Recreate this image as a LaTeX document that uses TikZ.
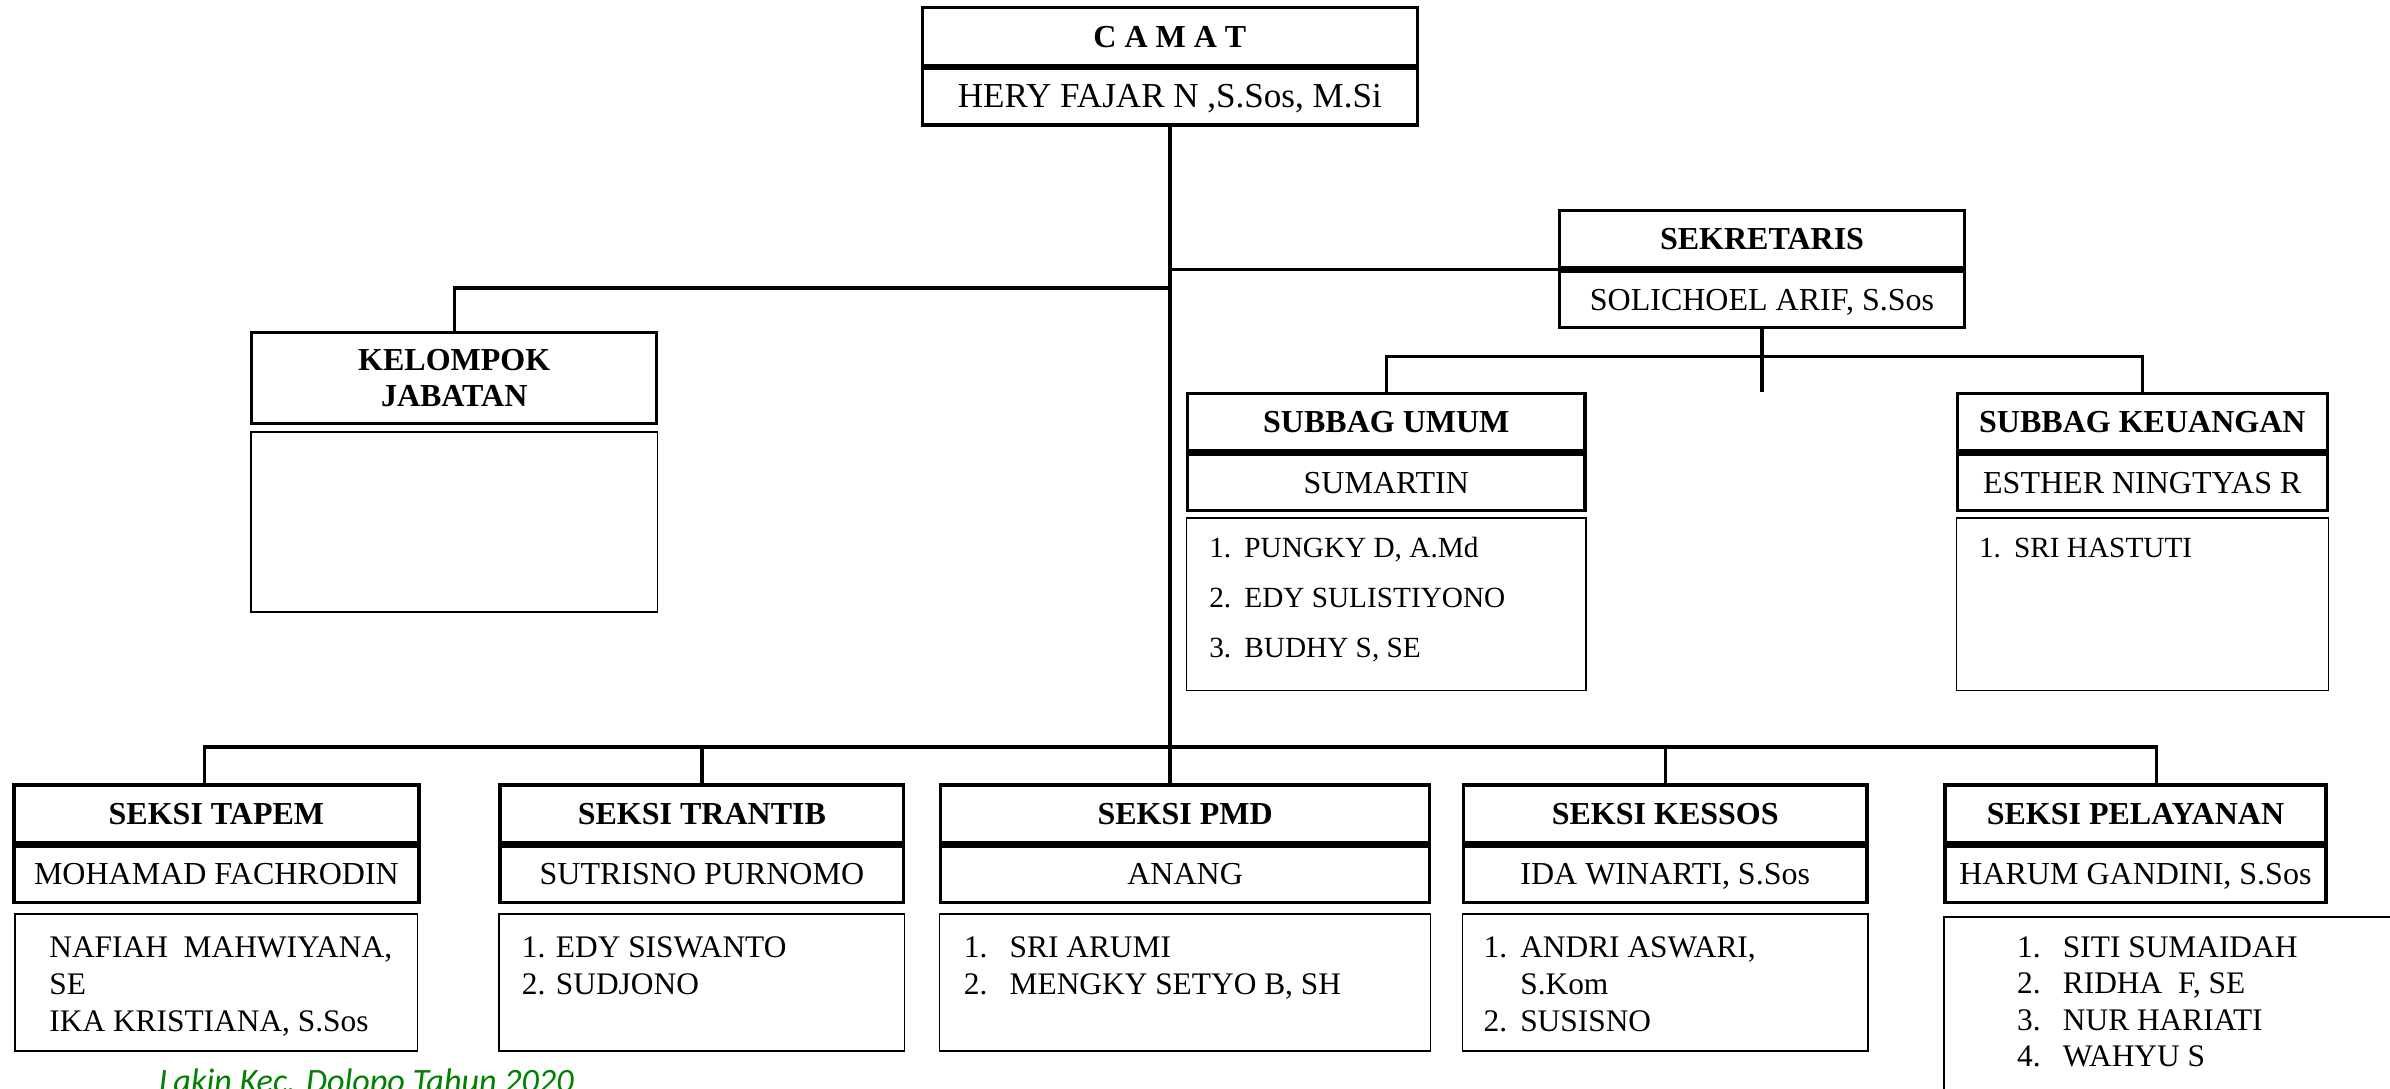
\documentclass[tikz,border=0pt]{standalone}
\usepackage{fontspec}
\setmainfont{Liberation Serif}
\newfontfamily\catatanfont{Carlito}
\usetikzlibrary{positioning}
\definecolor{hijau}{RGB}{0,128,0}

\begin{document}
\begin{tikzpicture}[x=0.5pt, y=-0.5pt,
  judul/.style={draw, line width=1.1pt, minimum width=#1, minimum height=18.9pt,
                inner sep=0pt, text height=7pt, text depth=0pt,
                font=\fontsize{10.5}{12}\selectfont\bfseries},
  nama/.style={draw, line width=1.1pt, minimum width=#1, minimum height=18.4pt,
               inner sep=0pt, text height=7pt, text depth=0pt,
               font=\fontsize{10.5}{12}\selectfont},
  daftar/.style={draw, line width=0.5pt, minimum width=#1, inner sep=0pt},
  isi/.style={anchor=base west, inner sep=0pt, font=\fontsize{10.3}{12.25}\selectfont},
  garis/.style={line width=1.1pt}]
\useasboundingbox (0,0) rectangle (1568,714);

% camat
\node[judul=162.4pt] (camat) at (767.5,24) {C A M A T};
\node[nama=162.4pt, below=0pt of camat, font=\fontsize{11.5}{13}\selectfont] (camatNama) {HERY FAJAR N ,S.Sos, M.Si};

% sekretaris
\node[judul=132.9pt] (sek) at (1156,157) {SEKRETARIS};
\node[nama=132.9pt, below=0pt of sek] (sekNama) {SOLICHOEL ARIF, S.Sos};

% kelompok jabatan
\node[judul=132.9pt, minimum height=29.9pt, text height=, text depth=, align=center] (kelompok) at (298,248) {KELOMPOK\\JABATAN};
\node[daftar=133.5pt, minimum height=59pt, below=2pt of kelompok] (kelompokIsi) {};

% subbag
\node[judul=130.4pt] (umum) at (909.5,277) {SUBBAG UMUM};
\node[nama=130.4pt, below=0pt of umum] (umumNama) {SUMARTIN};
\node[daftar=131pt, minimum height=56.5pt, below=1.7pt of umumNama] (umumIsi) {};
\node[isi, font=\fontsize{9.6}{16.5}\selectfont] (umumTeks) at (793,365.5)
  {\begin{tabular}[t]{@{}p{11.5pt}@{}l@{}}1. & PUNGKY D, A.Md\\ 2. & EDY SULISTIYONO\\ 3. & BUDHY S, SE\end{tabular}};

\node[judul=121.4pt] (keu) at (1405.5,277) {SUBBAG KEUANGAN};
\node[nama=121.4pt, below=0pt of keu] (keuNama) {ESTHER NINGTYAS R};
\node[daftar=122pt, minimum height=56.5pt, below=1.7pt of keuNama] (keuIsi) {};
\node[isi, font=\fontsize{9.6}{16.5}\selectfont] (keuTeks) at (1298,365.5)
  {\begin{tabular}[t]{@{}p{11.5pt}@{}l@{}}1. & SRI HASTUTI\end{tabular}};

% seksi
\node[judul=132.9pt] (tapem) at (142,534) {SEKSI TAPEM};
\node[nama=132.9pt, below=0pt of tapem] (tapemNama) {MOHAMAD FACHRODIN};
\node[daftar=132pt, minimum height=45pt, below=3pt of tapemNama] (tapemIsi) {};
\node[isi] (tapemTeks) at (32,628)
  {\begin{tabular}[t]{@{}l@{}}NAFIAH\ \ MAHWIYANA,\\ SE\\ IKA KRISTIANA, S.Sos\end{tabular}};

\node[judul=132.4pt] (trantib) at (460.5,534) {SEKSI TRANTIB};
\node[nama=132.4pt, below=0pt of trantib] (trantibNama) {SUTRISNO PURNOMO};
\node[daftar=133pt, minimum height=45pt, below=3pt of trantibNama] (trantibIsi) {};
\node[isi] (trantibTeks) at (342,628)
  {\begin{tabular}[t]{@{}l@{}}1. EDY SISWANTO\\ 2. SUDJONO\end{tabular}};

\node[judul=160.4pt] (pmd) at (777.5,534) {SEKSI PMD};
\node[nama=160.4pt, below=0pt of pmd] (pmdNama) {ANANG};
\node[daftar=161pt, minimum height=45pt, below=3pt of pmdNama] (pmdIsi) {};
\node[isi] (pmdTeks) at (632,628)
  {\begin{tabular}[t]{@{}p{15pt}@{}l@{}}1. & SRI ARUMI\\ 2. & MENGKY SETYO B, SH\end{tabular}};

\node[judul=132.4pt] (kessos) at (1092.5,534) {SEKSI KESSOS};
\node[nama=132.4pt, below=0pt of kessos] (kessosNama) {IDA WINARTI, S.Sos};
\node[daftar=133pt, minimum height=45pt, below=3pt of kessosNama] (kessosIsi) {};
\node[isi] (kessosTeks) at (973,628)
  {\begin{tabular}[t]{@{}p{12pt}@{}l@{}}1. & ANDRI ASWARI,\\ & S.Kom\\ 2. & SUSISNO\end{tabular}};

\node[judul=124.9pt] (pelayanan) at (1401,534) {SEKSI PELAYANAN};
\node[nama=124.9pt, below=0pt of pelayanan] (pelayananNama) {HARUM GANDINI, S.Sos};
\node[daftar=172pt, minimum height=80pt, anchor=north west] (pelayananIsi) at (1275,601) {};
\node[isi, font=\fontsize{10.3}{12}\selectfont] (pelayananTeks) at (1323,628)
  {\begin{tabular}[t]{@{}p{15pt}@{}l@{}}1. & SITI SUMAIDAH\\ 2. & RIDHA\ \ F, SE\\ 3. & NUR HARIATI\\ 4. & WAHYU S\end{tabular}};

% garis hubung
\coordinate (cabangKJ) at (767.5,189);
\coordinate (busSub) at (1156,234);
\coordinate (busKiri) at (134,490);
\coordinate (busKanan) at (1415,490);
\draw[garis] (camatNama.south) -- (camatNama.south |- pmd.north);
\draw[garis] (cabangKJ) -| (kelompok.north);
\draw[garis] (camatNama.south |- sekNama.north west) -- (sekNama.north west);
\draw[garis] (sekNama.south) -- (sekNama.south |- umum.north);
\draw[garis] (umum.north) |- (busSub) -| (keu.north);
\draw[garis] (busKiri |- tapem.north) -- (busKiri) -- (busKanan) -- (busKanan |- pelayanan.north);
\foreach \s in {trantib, kessos}
  \draw[garis] (\s.north) -- (\s.north |- busKiri);

\node[anchor=base west, inner sep=0pt, text=hijau, font=\fontsize{11.2}{13}\catatanfont\itshape] (catatan) at (104,717) {Lakin Kec. Dolopo Tahun 2020};
\end{tikzpicture}
\end{document}
